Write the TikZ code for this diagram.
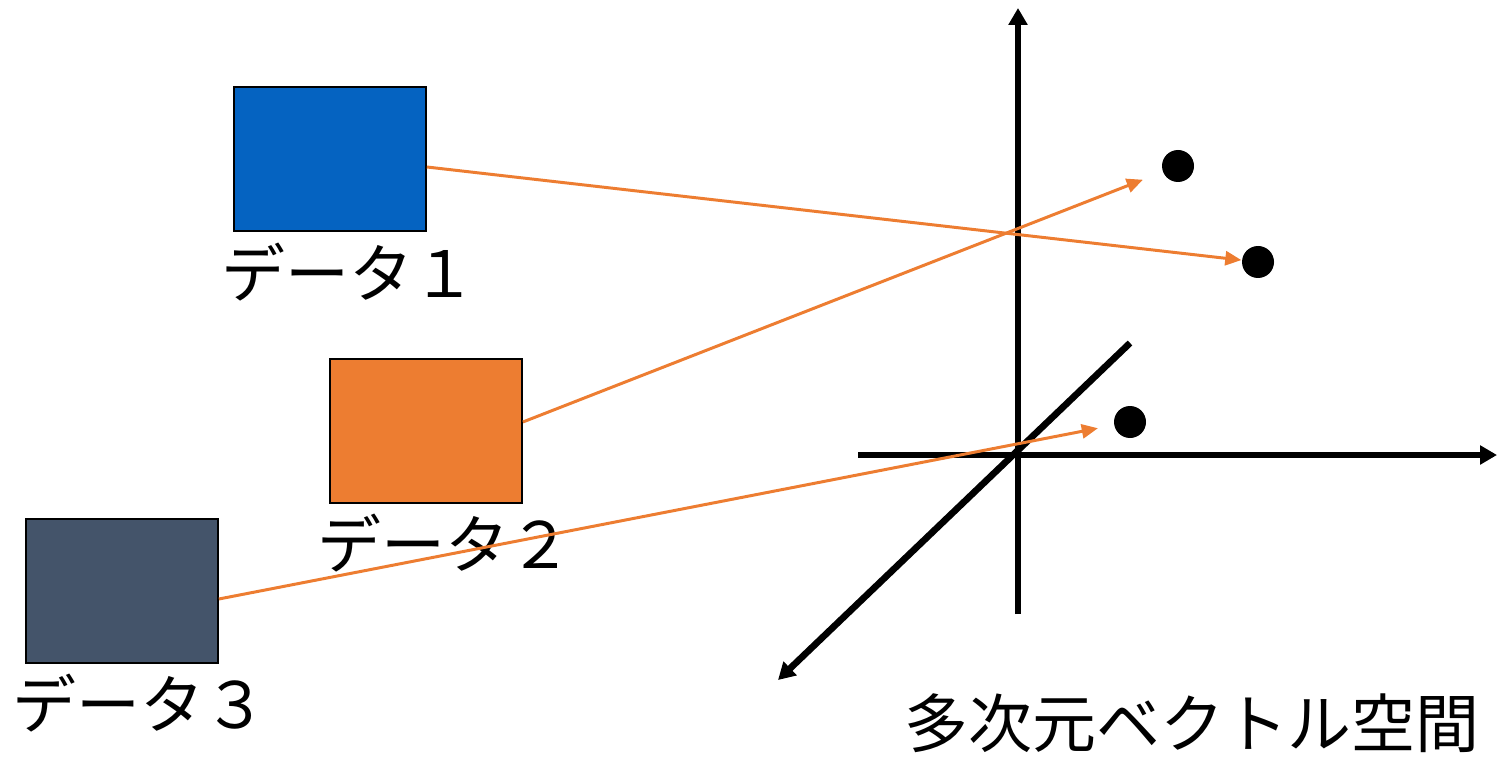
\documentclass[tikz,border=0pt]{standalone}
\usepackage{fontspec}
\newfontfamily\jpfont{Noto Sans CJK JP}
\usepackage{xcolor}
\definecolor{dtblue}{RGB}{5,99,193}
\definecolor{dtorange}{RGB}{237,125,49}
\definecolor{dtgray}{RGB}{68,84,106}
\usepackage{tikz}
\usetikzlibrary{arrows.meta, positioning, calc}

\begin{document}
\begin{tikzpicture}[
  databox/.style={draw=black, line width=0.5pt, minimum width=1.92cm, minimum height=1.44cm, inner sep=0pt},
  datalabel/.style={font=\jpfont\fontsize{18.2}{20}\selectfont, inner sep=0pt},
  vecpt/.style={circle, fill=black, minimum size=0.32cm, inner sep=0pt},
  axis/.style={line width=1.9pt, -{Triangle[length=4.8pt, width=5.2pt]}},
  mapto/.style={dtorange, line width=0.85pt, -{Triangle[length=4.6pt, width=4pt]}}
]
\useasboundingbox (0,0) rectangle (14.99,7.56);

% --- Data boxes ---
\node[databox, fill=dtblue] (d1) at (3.30,5.97) {};
\node[databox, fill=dtorange] (d2) at (4.26,3.25) {};
\node[databox, fill=dtgray] (d3) at (1.22,1.65) {};

\node[datalabel] (l1) at (3.49,4.84) {データ１};
\node[datalabel] (l2) at (4.45,2.13) {データ２};
\node[datalabel] (l3) at (1.40,0.53) {データ３};

% --- Vector space axes ---
\draw[axis] (10.18,1.42) -- (10.18,7.48);
\draw[axis] (8.58,3.01) -- (14.97,3.01);
\draw[axis] (11.30,4.13) -- (7.78,0.76);

% Points
\node[vecpt] (p1) at (11.78,5.90) {};
\node[vecpt] (p2) at (12.58,4.94) {};
\node[vecpt] (p3) at (11.30,3.34) {};

\node[datalabel] (space) at (11.92,0.33) {多次元ベクトル空間};

% --- Mapping arrows ---
\draw[mapto] ($(d1.east)+(0,-0.08)$) -- (p2);
\draw[mapto, shorten >=0.21cm] ($(d2.east)+(0,0.09)$) -- (p1);
\draw[mapto, shorten >=0.16cm] ($(d3.east)+(0,-0.08)$) -- (p3);

\end{tikzpicture}
\end{document}
